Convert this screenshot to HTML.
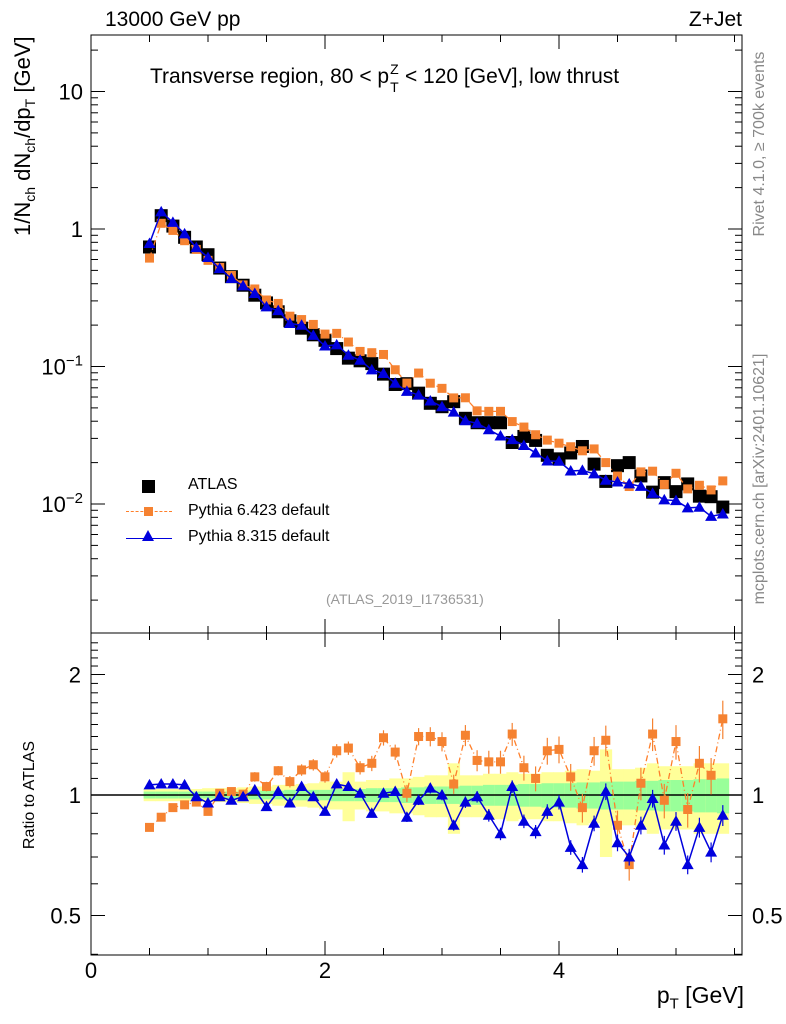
<!DOCTYPE html>
<html><head><meta charset="utf-8">
<style>
body{margin:0;background:#fff;}
svg{display:block;font-family:"Liberation Sans",sans-serif;}
</style></head>
<body>
<svg id="c" width="786" height="1024" viewBox="0 0 786 1024" xmlns="http://www.w3.org/2000/svg"></svg>
<script>
const pt = [0.5,0.6,0.7,0.8,0.9,1.0,1.1,1.2,1.3,1.4,1.5,1.6,1.7,1.8,1.9,2.0,2.1,2.2,2.3,2.4,2.5,2.6,2.7,2.8,2.9,3.0,3.1,3.2,3.3,3.4,3.5,3.6,3.7,3.8,3.9,4.0,4.1,4.2,4.3,4.4,4.5,4.6,4.7,4.8,4.9,5.0,5.1,5.2,5.3,5.4];
const atlas = [0.74,1.25,1.05,0.87,0.74,0.65,0.52,0.45,0.39,0.33,0.29,0.25,0.215,0.19,0.17,0.155,0.135,0.115,0.11,0.105,0.088,0.074,0.075,0.064,0.054,0.051,0.0555,0.042,0.039,0.039,0.039,0.028,0.031,0.029,0.0226,0.0213,0.0235,0.0262,0.0195,0.0146,0.019,0.020,0.016,0.0122,0.0143,0.0123,0.014,0.0114,0.0113,0.0095];
const ratioP6 = [0.83,0.88,0.93,0.945,0.96,0.91,1.01,1.02,1.005,1.11,1.05,1.15,1.08,1.155,1.19,1.11,1.29,1.31,1.17,1.20,1.39,1.28,1.01,1.40,1.40,1.36,1.065,1.41,1.22,1.21,1.21,1.42,1.17,1.10,1.29,1.30,1.11,0.93,1.29,1.37,0.84,0.67,1.07,1.42,0.97,1.36,0.92,1.20,1.12,1.55];
const ratioP8 = [1.06,1.065,1.065,1.06,0.99,0.955,0.99,0.97,0.99,1.03,0.935,1.02,0.955,1.05,0.99,0.91,1.065,1.05,1.01,0.90,1.01,1.02,0.88,0.97,1.04,1.0,0.84,0.96,0.99,0.89,0.80,1.05,0.86,0.81,0.91,0.96,0.74,0.67,0.85,1.02,0.76,0.70,0.84,0.98,0.75,0.86,0.67,0.83,0.72,0.89];
const statErr = [0.02,0.02,0.02,0.02,0.02,0.02,0.02,0.02,0.02,0.025,0.025,0.025,0.03,0.03,0.03,0.03,0.035,0.035,0.035,0.04,0.04,0.04,0.045,0.045,0.05,0.05,0.05,0.055,0.055,0.06,0.06,0.06,0.065,0.065,0.07,0.07,0.07,0.075,0.075,0.08,0.08,0.08,0.085,0.085,0.09,0.09,0.09,0.095,0.095,0.1];
const totErr = [0.035,0.035,0.035,0.035,0.035,0.04,0.04,0.04,0.045,0.05,0.05,0.06,0.06,0.065,0.07,0.08,0.08,0.14,0.08,0.09,0.09,0.1,0.1,0.11,0.12,0.12,0.2,0.12,0.12,0.13,0.13,0.14,0.13,0.13,0.14,0.14,0.15,0.16,0.15,0.3,0.16,0.16,0.17,0.2,0.18,0.18,0.18,0.2,0.2,0.2];
const mainTickVals = [10,1,0.1,0.01];
const mainTickLabels = ["10","1","10","10"];
const mainTickExp = ["","","−1","−2"];
const ratioTicks = [2,1,0.5];
const xTicks = [0,2,4];

const NS="http://www.w3.org/2000/svg";
const svg=document.getElementById('c');
function el(t,a,p){const e=document.createElementNS(NS,t);for(const k in a)e.setAttribute(k,a[k]);(p||svg).appendChild(e);return e;}
const L=91,R=742,T=35,MB=633,RB=955;
const X=v=>L+117*v;
const Y=v=>229-137.5*Math.log10(v);
const YR=r=>795-120.5*Math.log2(r);

const gBand=el('g',{});


const rc=document.createElementNS(NS,'clipPath');rc.setAttribute('id','rclip');svg.appendChild(rc);
el('rect',{x:L,y:MB,width:R-L,height:RB-MB},rc);
gBand.setAttribute('clip-path','url(#rclip)');
pt.forEach((p,i)=>{
 const x0=X(p-0.05),x1=X(p+0.05);
 const y=el('rect',{x:x0,y:YR(1+totErr[i]),width:x1-x0+0.5,height:YR(1-totErr[i])-YR(1+totErr[i]),fill:'#ffff99'},gBand);
 
 
 const g=el('rect',{x:x0,y:YR(1+statErr[i]),width:x1-x0+0.5,height:YR(1-statErr[i])-YR(1+statErr[i]),fill:'#99ff99'},gBand);
 
 
});
el('line',{x1:L,x2:R,y1:YR(1),y2:YR(1),stroke:'#000','stroke-width':1.5});

el('rect',{x:L,y:T,width:R-L,height:MB-T,fill:'none',stroke:'#000','stroke-width':1});
el('rect',{x:L,y:MB,width:R-L,height:RB-MB,fill:'none',stroke:'#000','stroke-width':1});

for(let d=-3;d<=1;d++){for(let m=1;m<=9;m++){const v=m*Math.pow(10,d);const y=Y(v);if(y<T||y>MB)continue;const len=m==1?14:7;
 el('line',{x1:L,x2:L+len,y1:y,y2:y,stroke:'#000'});el('line',{x1:R,x2:R-len,y1:y,y2:y,stroke:'#000'});}}
mainTickVals.forEach((v,i)=>{
 const t=el('text',{x:83,y:Y(v)+8,'font-size':22,'text-anchor':'end'});
 
 
 const a=el('tspan',{},t);a.textContent=mainTickLabels[i];
 if(mainTickExp[i]){const s=el('tspan',{dy:-9,'font-size':15},t);s.textContent=mainTickExp[i];}
});
for(let r=0.4;r<=2.5;r+=0.1){const y=YR(r);if(y<MB||y>RB)continue;const maj=Math.abs(r-1)<1e-6||Math.abs(r-2)<1e-6||Math.abs(r-0.5)<1e-6;const len=maj?14:7;
 el('line',{x1:L,x2:L+len,y1:y,y2:y,stroke:'#000'});el('line',{x1:R,x2:R-len,y1:y,y2:y,stroke:'#000'});}
ratioTicks.forEach(r=>{
 const a=el('text',{x:81,y:YR(r)+8,'font-size':22,'text-anchor':'end'});a.textContent=String(r);
 
 
 const b=el('text',{x:752,y:YR(r)+8,'font-size':22});b.textContent=String(r);
 
 
});
for(let v=0;v<=5.5;v+=0.5){const x=X(v);const maj=Math.abs(v%2)<1e-6;const len=maj?14:7;
 el('line',{x1:x,x2:x,y1:RB,y2:RB-len,stroke:'#000'});el('line',{x1:x,x2:x,y1:MB,y2:MB+len,stroke:'#000'});
 el('line',{x1:x,x2:x,y1:MB,y2:MB-len,stroke:'#000'});el('line',{x1:x,x2:x,y1:T,y2:T+len,stroke:'#000'});}
xTicks.forEach(v=>{const t=el('text',{x:X(v),y:978,'font-size':22,'text-anchor':'middle'});t.textContent=String(v);
 
 });

const mc=document.createElementNS(NS,'clipPath');mc.setAttribute('id','mclip');svg.appendChild(mc);
el('rect',{x:L,y:T,width:R-L,height:MB-T},mc);
function tri(g,x,y,s,c){el('polygon',{points:`${x},${y-s} ${x-s},${y+s*0.75} ${x+s},${y+s*0.75}`,fill:c},g);}
const gA=el('g',{'clip-path':'url(#mclip)'});
pt.forEach((p,i)=>el('rect',{x:X(p)-6.5,y:Y(atlas[i])-6.5,width:13,height:13,fill:'#000'},gA));
const p6=pt.map((p,i)=>atlas[i]*ratioP6[i]), p8=pt.map((p,i)=>atlas[i]*ratioP8[i]);
const g6=el('g',{'clip-path':'url(#mclip)'});
el('polyline',{points:pt.map((p,i)=>X(p)+','+Y(p6[i])).join(' '),fill:'none',stroke:'#ff7f2a','stroke-width':1.3,'stroke-dasharray':'6,3,1,3'},g6);
pt.forEach((p,i)=>el('rect',{x:X(p)-4.5,y:Y(p6[i])-4.5,width:9,height:9,fill:'#f58231'},g6));
const g8=el('g',{'clip-path':'url(#mclip)'});
el('polyline',{points:pt.map((p,i)=>X(p)+','+Y(p8[i])).join(' '),fill:'none',stroke:'#0000dd','stroke-width':1.5},g8);
pt.forEach((p,i)=>tri(g8,X(p),Y(p8[i]),6,'#0000dd'));
const r6=el('g',{'clip-path':'url(#rclip)'});
el('polyline',{points:pt.map((p,i)=>X(p)+','+YR(ratioP6[i])).join(' '),fill:'none',stroke:'#ff7f2a','stroke-width':1.3,'stroke-dasharray':'6,3,1,3'},r6);
pt.forEach((p,i)=>{const e=statErr[i]*1.1;el('line',{x1:X(p),x2:X(p),y1:YR(ratioP6[i]*(1+e)),y2:YR(ratioP6[i]*(1-e)),stroke:'#f58231','stroke-width':1.2},r6);
 el('rect',{x:X(p)-4.5,y:YR(ratioP6[i])-4.5,width:9,height:9,fill:'#f58231'},r6);});
const r8=el('g',{'clip-path':'url(#rclip)'});
el('polyline',{points:pt.map((p,i)=>X(p)+','+YR(ratioP8[i])).join(' '),fill:'none',stroke:'#0000dd','stroke-width':1.5},r8);
pt.forEach((p,i)=>{const e=statErr[i]*0.6;el('line',{x1:X(p),x2:X(p),y1:YR(ratioP8[i]*(1+e)),y2:YR(ratioP8[i]*(1-e)),stroke:'#0000dd','stroke-width':1.2},r8);
 tri(r8,X(p),YR(ratioP8[i]),6,'#0000dd');});
</script>
<div style="position:absolute;left:0;top:0;width:786px;height:1024px;font-family:'Liberation Sans',sans-serif;pointer-events:none">
<div style="position:absolute;left:105px;top:8px;font-size:21px">13000 GeV pp</div>
<div style="position:absolute;right:44px;top:8px;font-size:21px">Z+Jet</div>
<div style="position:absolute;left:150px;top:65px;font-size:21px;white-space:nowrap">Transverse region, 80 &lt; p<span style="display:inline-block;position:relative;width:10px;height:10px;font-size:14px"><span style="position:absolute;left:1px;top:-12px">Z</span><span style="position:absolute;left:1px;top:6px">T</span></span> &lt; 120 [GeV], low thrust</div>
<div style="position:absolute;left:-136px;top:122px;width:320px;text-align:center;font-size:22px;transform:rotate(-90deg);white-space:nowrap">1/N<sub style="font-size:14px">ch</sub> dN<sub style="font-size:14px">ch</sub>/dp<sub style="font-size:14px">T</sub> [GeV]</div>
<div style="position:absolute;left:-40px;top:786px;width:140px;text-align:center;font-size:16px;transform:rotate(-90deg);white-space:nowrap">Ratio to ATLAS</div>
<div style="position:absolute;right:42px;top:982px;font-size:23px">p<sub style="font-size:15px">T</sub> [GeV]</div>
<div style="position:absolute;left:620px;top:135px;width:280px;text-align:center;font-size:16px;color:#888;transform:rotate(-90deg);white-space:nowrap">Rivet 4.1.0, ≥ 700k events</div>
<div style="position:absolute;left:600px;top:470px;width:320px;text-align:center;font-size:16px;color:#888;transform:rotate(-90deg);white-space:nowrap">mcplots.cern.ch [arXiv:2401.10621]</div>
<div style="position:absolute;left:326px;top:591px;font-size:14px;color:#999">(ATLAS_2019_I1736531)</div>
<div style="position:absolute;left:126px;top:476px;width:260px;font-size:16px;white-space:nowrap">
 <div style="position:relative;height:26px"><span style="position:absolute;left:16px;top:4px;width:13px;height:13px;background:#000"></span><span style="position:absolute;left:62px;top:0">ATLAS</span></div>
 <div style="position:relative;height:26px"><span style="position:absolute;left:0;top:9px;width:46px;border-top:1.5px dashed #ff7f2a"></span><span style="position:absolute;left:18px;top:5px;width:9px;height:9px;background:#f58231"></span><span style="position:absolute;left:62px;top:0">Pythia 6.423 default</span></div>
 <div style="position:relative;height:26px"><span style="position:absolute;left:0;top:10px;width:46px;border-top:1.5px solid #0000dd"></span><span style="position:absolute;left:16px;top:2px;width:0;height:0;border-left:6px solid transparent;border-right:6px solid transparent;border-bottom:11px solid #0000dd"></span><span style="position:absolute;left:62px;top:0">Pythia 8.315 default</span></div>
</div>
</div>
</body></html>
